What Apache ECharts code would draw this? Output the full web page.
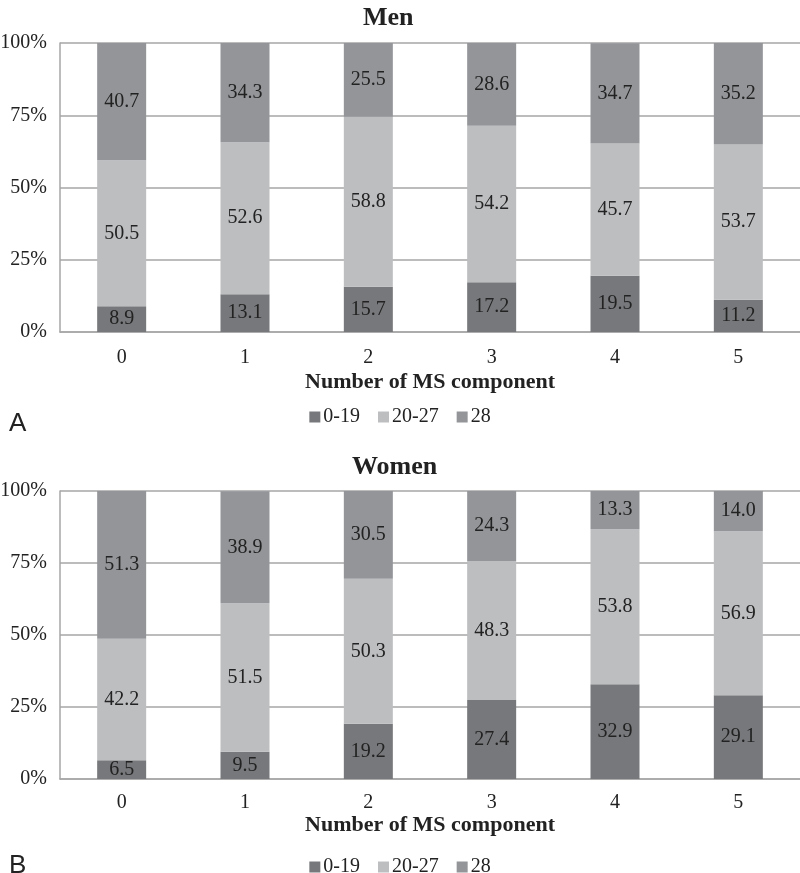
<!DOCTYPE html>
<html>
<head>
<meta charset="utf-8">
<script src="https://cdn.jsdelivr.net/npm/echarts@6/dist/echarts.min.js"></script>
<style>html,body{margin:0;padding:0;background:#fff}#c{width:800px;height:873px}</style>
</head>
<body>
<div id="c"></div>
<script>
const categories = ['0', '1', '2', '3', '4', '5'];
const seriesNames = ['0-19', '20-27', '28'];
const yTicks = [0, 25, 50, 75, 100];
const men_0_19 = [8.9, 13.1, 15.7, 17.2, 19.5, 11.2];
const men_20_27 = [50.5, 52.6, 58.8, 54.2, 45.7, 53.7];
const men_28 = [40.7, 34.3, 25.5, 28.6, 34.7, 35.2];
const women_0_19 = [6.5, 9.5, 19.2, 27.4, 32.9, 29.1];
const women_20_27 = [42.2, 51.5, 50.3, 48.3, 53.8, 56.9];
const women_28 = [51.3, 38.9, 30.5, 24.3, 13.3, 14.0];

const colors = ['#77787b', '#bdbec0', '#939598'];
const serif = '"Liberation Serif", "DejaVu Serif", serif';

function mkX(idx, labelMargin, nameGap) {
  return {
    type: 'category', gridIndex: idx, data: categories,
    axisLine: { lineStyle: { color: '#a6a6a6', width: 1.5 } },
    axisTick: { show: false },
    axisLabel: { fontFamily: serif, fontSize: 20, color: '#222', margin: labelMargin },
    name: 'Number of MS component', nameLocation: 'middle', nameGap: nameGap,
    nameTextStyle: { fontFamily: serif, fontSize: 22, fontWeight: 'bold', color: '#222', verticalAlign: 'top' }
  };
}
function mkY(idx) {
  return {
    type: 'value', gridIndex: idx, min: 0, max: 100, interval: 25,
    axisLine: { show: true, lineStyle: { color: '#a6a6a6', width: 1.5 } },
    axisTick: { show: false },
    splitLine: { lineStyle: { color: '#a6a6a6', width: 1.5 } },
    axisLabel: { fontFamily: serif, fontSize: 20, color: '#222', margin: 13, formatter: v => yTicks.includes(v) ? v + '%' : '' }
  };
}
function mkS(name, data, idx, ci) {
  return {
    name: name, type: 'bar', stack: 'g' + idx, xAxisIndex: idx, yAxisIndex: idx,
    data: data, barWidth: 49, itemStyle: { color: colors[ci] },
    label: { show: true, position: 'inside', fontFamily: serif, fontSize: 20, color: '#222', formatter: p => p.value.toFixed(1) }
  };
}
const legendCommon = {
  data: seriesNames, left: 'center', itemWidth: 11, itemHeight: 11, itemGap: 18,
  icon: 'rect', textStyle: { fontFamily: serif, fontSize: 20, color: '#222', padding: [0, 0, 0, -2] }
};
const chart = echarts.init(document.getElementById('c'));
chart.setOption({
  animation: false,
  title: [
    { text: 'Men', left: 358, top: 0, textStyle: { fontFamily: serif, fontSize: 26, fontWeight: 'bold', color: '#222' } },
    { text: 'Women', left: 347, top: 449, textStyle: { fontFamily: serif, fontSize: 26, fontWeight: 'bold', color: '#222' } },
    { text: 'A', left: 4, top: 406, textStyle: { fontFamily: '"Liberation Sans", Arial, sans-serif', fontSize: 26, fontWeight: 'normal', color: '#222' } },
    { text: 'B', left: 4, top: 848, textStyle: { fontFamily: '"Liberation Sans", Arial, sans-serif', fontSize: 26, fontWeight: 'normal', color: '#222' } }
  ],
  legend: [
    Object.assign({ top: 402 }, legendCommon),
    Object.assign({ top: 852 }, legendCommon)
  ],
  grid: [
    { left: 60, right: 0, top: 43, height: 289, outerBoundsMode: 'none', containLabel: false },
    { left: 60, right: 0, top: 491, height: 288, outerBoundsMode: 'none', containLabel: false }
  ],
  xAxis: [mkX(0, 16, 39), mkX(1, 14, 35)],
  yAxis: [mkY(0), mkY(1)],
  series: [
    mkS(seriesNames[0], men_0_19, 0, 0),
    mkS(seriesNames[1], men_20_27, 0, 1),
    mkS(seriesNames[2], men_28, 0, 2),
    mkS(seriesNames[0], women_0_19, 1, 0),
    mkS(seriesNames[1], women_20_27, 1, 1),
    mkS(seriesNames[2], women_28, 1, 2)
  ]
});
</script>
</body>
</html>
